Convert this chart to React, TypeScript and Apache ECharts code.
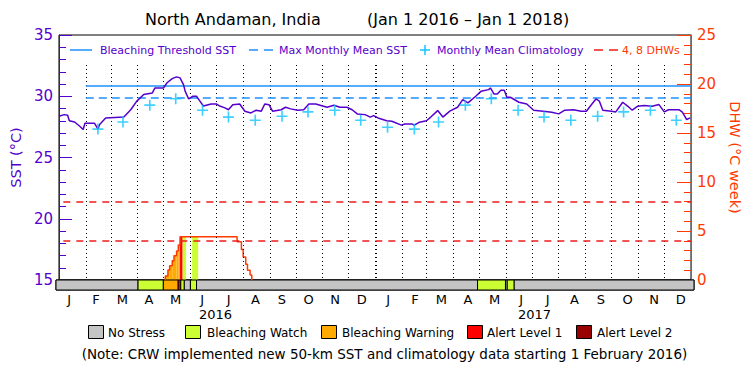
import React, { useEffect, useRef } from 'react';
import * as echarts from 'echarts';

const FONT = '"DejaVu Sans", sans-serif';
const PURPLE = '#5500cc';
const BLUE = '#1e90ff';
const CYAN = '#10c4ff';
const ORANGE = '#ff3a00';
const RED = '#ee1c1c';

// ---- data ----
const sstDates = [
  '2016-01-01','2016-01-07','2016-01-11','2016-01-13','2016-01-19','2016-01-25','2016-01-29','2016-01-31',
  '2016-02-11','2016-02-15','2016-02-17','2016-02-24','2016-03-16','2016-03-24','2016-03-31','2016-04-08',
  '2016-04-18','2016-04-21','2016-05-01','2016-05-05','2016-05-11','2016-05-16','2016-05-20','2016-05-24',
  '2016-05-26','2016-05-30','2016-06-04','2016-06-08','2016-06-12','2016-06-16','2016-06-25','2016-07-01',
  '2016-07-05','2016-07-11','2016-07-15','2016-07-20','2016-07-28','2016-08-03','2016-08-10','2016-08-16',
  '2016-08-22','2016-08-26','2016-08-31','2016-09-04','2016-09-14','2016-09-19','2016-09-25','2016-10-03',
  '2016-10-10','2016-10-16','2016-10-24','2016-11-06','2016-11-14','2016-11-21','2016-11-29','2016-12-05',
  '2016-12-11','2016-12-20','2016-12-26','2016-12-30','2017-01-04','2017-01-14','2017-01-20','2017-01-31',
  '2017-02-04','2017-02-12','2017-02-15','2017-02-21','2017-03-01','2017-03-06','2017-03-14','2017-03-20',
  '2017-03-28','2017-04-06','2017-04-12','2017-04-18','2017-04-27','2017-05-03','2017-05-12','2017-05-14',
  '2017-05-18','2017-05-22','2017-05-26','2017-05-30','2017-06-02','2017-06-06','2017-06-16','2017-06-25',
  '2017-07-03','2017-07-14','2017-07-24','2017-08-01','2017-08-08','2017-08-18','2017-08-27','2017-09-02',
  '2017-09-08','2017-09-13','2017-09-17','2017-09-21','2017-10-01','2017-10-06','2017-10-14','2017-10-20',
  '2017-10-25','2017-10-31','2017-11-08','2017-11-17','2017-11-25','2017-12-01','2017-12-06','2017-12-18',
  '2017-12-22','2017-12-27','2017-12-31'
];
const sstValues = [
  28.37, 28.5, 28.45, 28.0, 27.9, 27.55, 27.28, 27.8,
  27.8, 27.33, 27.7, 28.23, 28.3, 28.9, 29.6, 30.14,
  30.27, 30.68, 30.68, 31.1, 31.44, 31.58, 31.5, 30.95,
  30.4, 29.78, 30.0, 30.0, 29.6, 29.2, 29.37, 29.37,
  29.2, 29.05, 28.9, 29.3, 29.37, 28.78, 28.64, 28.86,
  28.78, 29.37, 29.3, 28.78, 28.9, 29.1, 28.97, 28.86,
  28.9, 29.37, 29.37, 29.1, 29.27, 29.1, 29.1, 28.9,
  28.56, 28.5, 28.3, 28.42, 28.23, 28.0, 27.96, 27.64,
  27.74, 27.74, 27.64, 27.88, 28.0, 28.3, 28.83, 28.3,
  28.78, 29.1, 29.73, 29.46, 30.0, 30.4, 30.54, 30.68,
  30.19, 30.19, 30.49, 30.49, 29.92, 29.92, 29.51, 29.37,
  28.86, 28.78, 28.7, 28.56, 28.86, 28.9, 28.78, 28.78,
  29.32, 29.78, 29.6, 28.86, 28.78, 28.72, 29.51, 29.18,
  28.86, 29.18, 29.24, 29.18, 29.32, 28.72, 28.9, 28.9,
  28.7, 28.1, 28.23
];

const climDates = [
  '2016-02-15','2016-03-15','2016-04-15','2016-05-15','2016-06-15','2016-07-15','2016-08-15','2016-09-15',
  '2016-10-15','2016-11-15','2016-12-15','2017-01-15','2017-02-15','2017-03-15','2017-04-15','2017-05-15',
  '2017-06-15','2017-07-15','2017-08-15','2017-09-15','2017-10-15','2017-11-15','2017-12-15'
];
const climValues = [
  27.32, 27.9, 29.27, 29.8, 28.86, 28.3, 28.04, 28.37, 28.72, 28.86, 28.04, 27.47,
  27.32, 27.9, 29.27, 29.8, 28.86, 28.3, 28.04, 28.37, 28.72, 28.86, 28.04
];

const bleachingThreshold = 30.85;
const maxMonthlyMean = 29.85;
const climStart = '2016-02-01';
const dhwLevels = [4, 8];

const dhwDates = [
  '2016-05-03','2016-05-03','2016-05-06','2016-05-08','2016-05-11','2016-05-13','2016-05-16','2016-05-18',
  '2016-05-20','2016-07-25','2016-07-30','2016-08-01','2016-08-04','2016-08-06','2016-08-09','2016-08-11'
];
const dhwValues = [0, 0.41, 1.02, 1.46, 1.97, 2.48, 2.96, 3.57, 4.42, 3.9, 3.1, 2.35, 1.6, 1.0, 0.5, 0];

const statusStarts = [
  '2016-01-01','2016-04-04','2016-05-03','2016-05-20','2016-05-23','2016-05-27','2016-06-03','2016-06-10',
  '2017-04-28','2017-05-30','2017-06-01','2017-06-09'
];
const statusEnds = [
  '2016-04-04','2016-05-03','2016-05-20','2016-05-23','2016-05-27','2016-06-03','2016-06-10','2017-04-28',
  '2017-05-30','2017-06-01','2017-06-09','2018-01-01'
];
const statusLevels = [0, 1, 2, 3, 1, 0, 1, 0, 1, 0, 1, 0];
const statusNames = ['No Stress', 'Bleaching Watch', 'Bleaching Warning', 'Alert Level 1', 'Alert Level 2'];
const statusColors = ['#c4c4c4', '#ccff33', '#ffaa00', '#ff0000', '#990000'];

const monthBoundaries = [
  '2016-02-01','2016-03-01','2016-04-01','2016-05-01','2016-06-01','2016-07-01','2016-08-01','2016-09-01',
  '2016-10-01','2016-11-01','2016-12-01','2017-01-01','2017-02-01','2017-03-01','2017-04-01','2017-05-01',
  '2017-06-01','2017-07-01','2017-08-01','2017-09-01','2017-10-01','2017-11-01','2017-12-01'
];
const yearBoundary = '2017-01-01';
const monthLabels = ['J','F','M','A','M','J','J','A','S','O','N','D','J','F','M','A','M','J','J','A','S','O','N','D'];
const yearLabels = ['2016', '2017'];
const xStart = '2016-01-01';
const xEnd = '2018-01-01';
const guideTop = 32.55;

const titleLeft = 'North Andaman, India';
const titleRight = '(Jan 1 2016 \u2013 Jan 1 2018)';
const noteText = '(Note: CRW implemented new 50-km SST and climatology data starting 1 February 2016)';

const t = (s: string) => new Date(s + 'T00:00:00').getTime();

const PLUS = 'path://M8.5,0H11.5V8.5H20V11.5H11.5V20H8.5V11.5H0V8.5H8.5Z';

export default function App() {
  const ref = useRef<HTMLDivElement>(null);
  useEffect(() => {
    if (!ref.current) return;
    const chart = echarts.init(ref.current, undefined, { renderer: 'svg' });

    const dhwT = dhwDates.map(t);
    const fillRects: number[][] = [];
    statusStarts.forEach((s, k) => {
      const lvl = statusLevels[k];
      if (lvl === 0) return;
      const a = t(s), b = t(statusEnds[k]);
      for (let i = 0; i < dhwT.length - 1; i++) {
        const lo = Math.max(a, dhwT[i]);
        const hi = Math.min(b, dhwT[i + 1]);
        if (hi > lo && dhwValues[i] > 0) fillRects.push([lo, hi, dhwValues[i], lvl]);
      }
    });
    const statusData = statusStarts.map((s, k) => [t(s), t(statusEnds[k]), statusLevels[k]]);

    const guideLines = monthBoundaries.map((d) => [
      { coord: [t(d), guideTop], lineStyle: { width: d === yearBoundary ? 2 : 1 } },
      { coord: [t(d), 15] },
    ]);

    const boxX = [88, 185, 321, 467, 576];
    const labX = [108, 207, 342, 487, 597];
    const bottomLegend: any[] = [];
    statusNames.forEach((n, i) => {
      bottomLegend.push({
        type: 'rect', shape: { x: boxX[i] + 0.5, y: 325.5, width: 15, height: 13 },
        style: { fill: statusColors[i], stroke: '#000', lineWidth: 1 },
      });
      bottomLegend.push({
        type: 'text', x: labX[i], y: 332.5,
        style: { text: n, fill: '#000', fontSize: 12, fontFamily: FONT, verticalAlign: 'middle', align: 'left' },
      });
    });

    const legendText = (x: number, text: string, fill: string) => ({
      type: 'text', x, y: 50,
      style: { text, fill, fontSize: 11, fontFamily: FONT, verticalAlign: 'middle', align: 'left' },
    });

    chart.setOption({
      animation: false,
      backgroundColor: '#fff',
      title: [
        { text: titleLeft, left: 145, top: 11, padding: 0, textStyle: { fontSize: 16, fontWeight: 'normal', fontFamily: FONT, color: '#000' } },
        { text: titleRight, left: 367, top: 11, padding: 0, textStyle: { fontSize: 16, fontWeight: 'normal', fontFamily: FONT, color: '#000' } },
      ],
      grid: [
        { left: 56, right: 56, top: 35, height: 245, show: true, borderColor: '#000', borderWidth: 1, backgroundColor: 'transparent' },
        { left: 56, right: 56, top: 280, height: 10, show: true, borderColor: '#000', borderWidth: 1, backgroundColor: 'transparent' },
      ],
      xAxis: [
        { type: 'time', gridIndex: 0, min: t(xStart), max: t(xEnd), axisLine: { show: false }, axisTick: { show: false }, axisLabel: { show: false }, splitLine: { show: false } },
        { type: 'time', gridIndex: 1, min: t(xStart), max: t(xEnd), axisLine: { show: false }, axisTick: { show: false }, axisLabel: { show: false }, splitLine: { show: false } },
        { type: 'category', gridIndex: 1, position: 'bottom', data: monthLabels, boundaryGap: true, axisLine: { show: false }, axisTick: { show: false }, axisLabel: { color: '#000', fontSize: 13, fontFamily: FONT, margin: 3, interval: 0 } },
        { type: 'category', gridIndex: 1, position: 'bottom', offset: 15, data: yearLabels, boundaryGap: true, axisLine: { show: false }, axisTick: { show: false }, axisLabel: { color: '#000', fontSize: 13, fontFamily: FONT, margin: 3, interval: 0 } },
      ],
      yAxis: [
        {
          type: 'value', gridIndex: 0, position: 'left', min: 15, max: 35, interval: 5,
          axisLine: { show: true, lineStyle: { color: PURPLE, width: 1 } },
          axisTick: { show: true, inside: true, length: 13, lineStyle: { color: PURPLE } },
          minorTick: { show: true, splitNumber: 5, length: 7, lineStyle: { color: PURPLE } },
          axisLabel: { color: PURPLE, fontSize: 15, fontFamily: FONT, margin: 6 },
          splitLine: { show: false },
          name: 'SST (\u00b0C)', nameLocation: 'middle', nameGap: 30,
          nameTextStyle: { color: PURPLE, fontSize: 14.5, fontFamily: FONT },
        },
        {
          type: 'value', gridIndex: 0, position: 'right', min: 0, max: 25, interval: 5,
          axisLine: { show: true, lineStyle: { color: ORANGE, width: 1 } },
          axisTick: { show: true, inside: true, length: 14, lineStyle: { color: ORANGE } },
          minorTick: { show: true, splitNumber: 5, length: 7, lineStyle: { color: ORANGE } },
          axisLabel: { color: ORANGE, fontSize: 15, fontFamily: FONT, margin: 6 },
          splitLine: { show: false },
          name: 'DHW (\u00b0C week)', nameLocation: 'middle', nameGap: 30, nameRotate: -90,
          nameTextStyle: { color: ORANGE, fontSize: 14.5, fontFamily: FONT },
        },
        { type: 'value', gridIndex: 1, min: 0, max: 1, show: false },
      ],
      series: [
        {
          type: 'line', name: 'guides', xAxisIndex: 0, yAxisIndex: 0, data: [], z: 1,
          markLine: {
            silent: true, symbol: ['none', 'none'], label: { show: false },
            lineStyle: { color: '#000', type: [1, 3], width: 1 },
            data: guideLines,
          },
        },
        {
          type: 'line', name: 'thresholds', xAxisIndex: 0, yAxisIndex: 0, data: [], z: 2,
          markLine: {
            silent: true, symbol: ['none', 'none'], label: { show: false },
            data: [
              [{ coord: [t(climStart), bleachingThreshold], lineStyle: { color: BLUE, width: 1.5, type: 'solid' } }, { coord: [t(xEnd), bleachingThreshold] }],
              [{ coord: [t(climStart), maxMonthlyMean], lineStyle: { color: BLUE, width: 1.5, type: [8, 5] } }, { coord: [t(xEnd), maxMonthlyMean] }],
            ],
          },
        },
        {
          type: 'custom', name: 'dhwFill', xAxisIndex: 0, yAxisIndex: 1, z: 2,
          data: fillRects,
          encode: { x: [0, 1], y: 2 },
          renderItem: (params: any, api: any) => {
            const p0 = api.coord([api.value(0), 0]);
            const p1 = api.coord([api.value(1), api.value(2)]);
            return {
              type: 'rect',
              shape: { x: p0[0], y: p1[1], width: p1[0] - p0[0], height: p0[1] - p1[1] },
              style: { fill: statusColors[api.value(3)] },
            };
          },
        },
        {
          type: 'line', name: 'DHW', xAxisIndex: 0, yAxisIndex: 1, step: 'end', showSymbol: false, z: 3,
          data: dhwDates.map((d, i) => [t(d), dhwValues[i]]),
          lineStyle: { color: ORANGE, width: 1.5 }, itemStyle: { color: ORANGE },
          markLine: {
            silent: true, symbol: ['none', 'none'], label: { show: false },
            lineStyle: { color: RED, width: 1.5, type: [7, 6] },
            data: dhwLevels.map((v) => [{ coord: [t('2016-01-06'), v] }, { coord: [t(xEnd), v] }]),
          },
        },
        {
          type: 'line', name: 'SST', xAxisIndex: 0, yAxisIndex: 0, showSymbol: false, z: 5,
          data: sstDates.map((d, i) => [t(d), sstValues[i]]),
          lineStyle: { color: PURPLE, width: 1.5 }, itemStyle: { color: PURPLE },
        },
        {
          type: 'scatter', name: 'Monthly Mean Climatology', xAxisIndex: 0, yAxisIndex: 0, z: 6,
          symbol: PLUS, symbolSize: 11,
          data: climDates.map((d, i) => [t(d), climValues[i]]),
          itemStyle: { color: CYAN },
        },
        {
          type: 'custom', name: 'status', xAxisIndex: 1, yAxisIndex: 2, z: 2,
          data: statusData,
          encode: { x: [0, 1] },
          renderItem: (params: any, api: any) => {
            const p0 = api.coord([api.value(0), 1]);
            const p1 = api.coord([api.value(1), 0]);
            return {
              type: 'rect',
              shape: { x: p0[0], y: p0[1], width: p1[0] - p0[0], height: p1[1] - p0[1] },
              style: { fill: statusColors[api.value(2)], stroke: '#000', lineWidth: 1 },
            };
          },
        },
      ],
      graphic: [
        { type: 'line', shape: { x1: 70, y1: 50, x2: 92, y2: 50 }, style: { stroke: BLUE, lineWidth: 1.5 } },
        legendText(100, 'Bleaching Threshold SST', PURPLE),
        { type: 'line', shape: { x1: 249, y1: 50, x2: 274, y2: 50 }, style: { stroke: BLUE, lineWidth: 1.5, lineDash: [9, 6] } },
        legendText(279, 'Max Monthly Mean SST', PURPLE),
        { type: 'line', shape: { x1: 420, y1: 50, x2: 430, y2: 50 }, style: { stroke: CYAN, lineWidth: 1.5 } },
        { type: 'line', shape: { x1: 425, y1: 45, x2: 425, y2: 55 }, style: { stroke: CYAN, lineWidth: 1.5 } },
        legendText(437, 'Monthly Mean Climatology', PURPLE),
        { type: 'line', shape: { x1: 594, y1: 50, x2: 618, y2: 50 }, style: { stroke: RED, lineWidth: 1.5, lineDash: [9, 6] } },
        legendText(622, '4, 8 DHWs', ORANGE),
        ...bottomLegend,
        {
          type: 'text', x: 384.5, y: 354,
          style: { text: noteText, fill: '#000', fontSize: 13.5, fontFamily: FONT, verticalAlign: 'middle', align: 'center' },
        },
      ],
    });
    return () => chart.dispose();
  }, []);
  return <div ref={ref} style={{ position: 'absolute', left: 0, top: 0, width: 750, height: 375 }} />;
}
